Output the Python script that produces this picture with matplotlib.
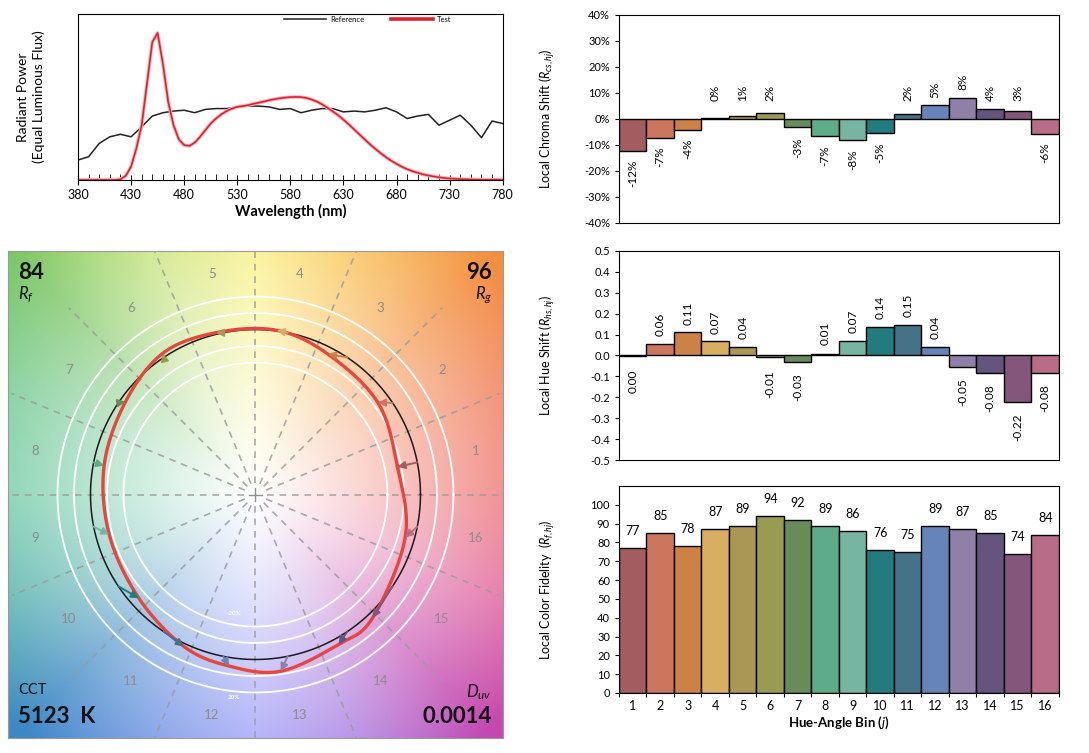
"""TM-30 style colour rendition report: spectrum, vector graphic and local metrics."""

import numpy as np
import matplotlib

matplotlib.use("Agg")
import matplotlib.pyplot as plt
from matplotlib.colors import to_rgb
from matplotlib.lines import Line2D
from matplotlib.ticker import FormatStrFormatter, MultipleLocator, PercentFormatter

plt.rcParams["font.family"] = ["Lato", "DejaVu Sans"]
plt.rcParams["axes.unicode_minus"] = False
plt.rcParams["mathtext.fontset"] = "custom"
plt.rcParams["mathtext.rm"] = "Lato"
plt.rcParams["mathtext.it"] = "Lato:italic"
plt.rcParams["mathtext.bf"] = "Lato:bold"

# ---- data -----------------------------------------------------------------
bins = np.arange(1, 17)
chroma_shift = [-0.123, -0.072, -0.042, 0.004, 0.010, 0.024, -0.032, -0.066,
                -0.081, -0.054, 0.018, 0.052, 0.082, 0.039, 0.031, -0.056]
hue_shift = [-0.004, 0.056, 0.113, 0.068, 0.043, -0.008, -0.031, 0.008,
             0.071, 0.138, 0.148, 0.043, -0.054, -0.083, -0.222, -0.083]
fidelity = [77, 85, 78, 87, 89, 94, 92, 89, 86, 76, 75, 89, 87, 85, 74, 84]
bin_colors = ["#a35c60", "#cc765e", "#cc8145", "#d8ae62", "#aa9655", "#999b51",
              "#678b5b", "#5eab87", "#76b5a2", "#227c7d", "#447286", "#6684b8",
              "#8e80a6", "#65547d", "#85567b", "#b96c88"]

wl_ref = np.arange(380, 781, 10)
ref_spd = [0.12, 0.14, 0.22, 0.26, 0.275, 0.26, 0.32, 0.385, 0.405, 0.415,
           0.42, 0.405, 0.425, 0.43, 0.43, 0.44, 0.445, 0.445, 0.44, 0.425,
           0.43, 0.405, 0.42, 0.43, 0.43, 0.41, 0.415, 0.41, 0.42, 0.435,
           0.41, 0.37, 0.385, 0.395, 0.33, 0.36, 0.39, 0.33, 0.255, 0.355, 0.34]
wl_test = np.arange(380, 781, 5)
test_spd = [0, 0, 0, 0, 0, 0, 0, 0,
            0.004, 0.025, 0.08, 0.19, 0.33, 0.58, 0.83, 0.885, 0.70, 0.47,
            0.33, 0.245, 0.21, 0.205, 0.225, 0.26, 0.30, 0.34, 0.37, 0.395,
            0.415, 0.43, 0.44, 0.445, 0.45, 0.458, 0.465, 0.472, 0.48, 0.486,
            0.492, 0.496, 0.499, 0.50, 0.499, 0.494, 0.485, 0.472, 0.455, 0.435,
            0.413, 0.39, 0.363, 0.335, 0.305, 0.275, 0.245, 0.215, 0.188, 0.162,
            0.138, 0.116, 0.097, 0.08, 0.065, 0.053, 0.043, 0.034, 0.027, 0.021,
            0.016, 0.012, 0.009, 0.007, 0.005, 0.004, 0.003, 0.002, 0.002, 0.001,
            0.001, 0.001, 0.001]

rf, rg = 84, 96
cct, duv = 5123, 0.0014

# background hue wheel for the vector graphic (angle in degrees -> colour)
bg_angles = [0, 22.5, 45, 67.5, 90, 112.5, 135, 157.5, 180, 202.5, 225,
             247.5, 270, 292.5, 315, 337.5, 360]
bg_colors = ["#ee6c6c", "#f07a55", "#f39040", "#f8c050", "#fbf07a", "#c8e47c",
             "#80c86a", "#70c890", "#68c8a0", "#50b0a8", "#3c88c4", "#6a8ee2",
             "#9898f8", "#a878e0", "#c448b0", "#e0609a", "#ee6c6c"]


def closed_spline(px, py, n=24):
    """Periodic Catmull-Rom curve through the given points."""
    pts = np.column_stack([px, py])
    k = len(pts)
    t = np.linspace(0, 1, n, endpoint=False)[:, None]
    segs = []
    for i in range(k):
        p0, p1, p2, p3 = pts[i - 1], pts[i], pts[(i + 1) % k], pts[(i + 2) % k]
        segs.append(0.5 * (2 * p1 + (-p0 + p2) * t
                           + (2 * p0 - 5 * p1 + 4 * p2 - p3) * t ** 2
                           + (-p0 + 3 * p1 - 3 * p2 + p3) * t ** 3))
    out = np.vstack(segs + [pts[:1]])
    return out[:, 0], out[:, 1]


fig = plt.figure(figsize=(10.89, 7.53), dpi=100)

# ---- spectrum -------------------------------------------------------------
ax_s = fig.add_axes([0.0716, 0.761, 0.390, 0.2205])
ax_s.plot(wl_ref, ref_spd, color="#222222", lw=1.1)
ax_s.plot(wl_test, test_spd, color="#f6b4b8", lw=2.6)
ax_s.plot(wl_test, test_spd, color="#e0202c", lw=1.2)
ax_s.set_xlim(380, 780)
ax_s.set_ylim(0, 1)
ax_s.set_yticks([])
ax_s.set_xticks(np.arange(380, 781, 50))
ax_s.xaxis.set_minor_locator(MultipleLocator(10))
ax_s.tick_params(axis="x", which="major", direction="inout", length=7, labelsize=9, pad=3)
ax_s.tick_params(axis="x", which="minor", direction="in", length=4)
ax_s.set_xlabel("Wavelength (nm)", fontsize=10.5, fontweight="bold", labelpad=2)
ax_s.set_ylabel("Radiant Power\n(Equal Luminous Flux)", fontsize=10, linespacing=1.3)
ax_s.yaxis.set_label_coords(-0.078, 0.5)
handles = [Line2D([], [], color="#222222", lw=1.1),
           Line2D([], [], color="#e0202c", lw=2.6)]
ax_s.legend(handles, ["Reference", "Test"], loc="upper left", bbox_to_anchor=(0.47, 1.03),
            ncol=2, frameon=False, fontsize=5.5, handlelength=5.5, columnspacing=3.5,
            handletextpad=0.5)

# ---- local chroma shift ---------------------------------------------------
ax_c = fig.add_axes([0.5684, 0.7039, 0.4040, 0.2762])
ax_c.bar(bins, chroma_shift, width=1, color=bin_colors, edgecolor="black", linewidth=1)
ax_c.set_xlim(0.5, 16.5)
ax_c.set_ylim(-0.4, 0.4)
ax_c.yaxis.set_major_locator(MultipleLocator(0.1))
ax_c.yaxis.set_major_formatter(PercentFormatter(1.0, decimals=0))
ax_c.set_xticks([])
ax_c.tick_params(axis="y", labelsize=8, length=3)
ax_c.set_ylabel(r"Local Chroma Shift ($R_{cs,hj}$)", fontsize=9)
ax_c.yaxis.set_label_coords(-0.14, 0.5)
for x, v in zip(bins, chroma_shift):
    if v >= 0:
        ax_c.text(x, max(v + 0.03, 0.07), f"{v:.0%}", rotation=90, ha="center",
                  va="bottom", fontsize=8.5)
    else:
        ax_c.text(x, min(v - 0.035, -0.07), f"{v:.0%}", rotation=90, ha="center",
                  va="top", fontsize=8.5)

# ---- local hue shift ------------------------------------------------------
ax_h = fig.add_axes([0.5684, 0.3891, 0.4040, 0.2776])
ax_h.bar(bins, hue_shift, width=1, color=bin_colors, edgecolor="black", linewidth=1)
ax_h.set_xlim(0.5, 16.5)
ax_h.set_ylim(-0.5, 0.5)
ax_h.yaxis.set_major_locator(MultipleLocator(0.1))
ax_h.yaxis.set_major_formatter(FormatStrFormatter("%.1f"))
ax_h.set_xticks([])
ax_h.tick_params(axis="y", labelsize=8, length=3)
ax_h.set_ylabel(r"Local Hue Shift ($R_{hs,hj}$)", fontsize=9)
ax_h.yaxis.set_label_coords(-0.14, 0.5)
for x, v in zip(bins, hue_shift):
    txt = f"{v:.2f}".replace("-0.00", "0.00")
    if v >= 0:
        ax_h.text(x, max(v + 0.035, 0.05), txt, rotation=90, ha="center",
                  va="bottom", fontsize=8.5)
    else:
        ax_h.text(x, min(v - 0.055, -0.07), txt, rotation=90, ha="center",
                  va="top", fontsize=8.5)

# ---- local fidelity -------------------------------------------------------
ax_f = fig.add_axes([0.5684, 0.0797, 0.4040, 0.2749])
ax_f.bar(bins, fidelity, width=1, color=bin_colors, edgecolor="black", linewidth=1)
ax_f.set_xlim(0.5, 16.5)
ax_f.set_ylim(0, 110)
ax_f.set_yticks(np.arange(0, 101, 10))
ax_f.tick_params(axis="y", labelsize=8, length=3)
ax_f.set_xticks(np.arange(0.5, 17, 1))
ax_f.set_xticklabels([])
ax_f.tick_params(axis="x", which="major", direction="inout", length=6)
ax_f.set_xticks(bins, minor=True)
ax_f.set_xticklabels([str(b) for b in bins], minor=True)
ax_f.tick_params(axis="x", which="minor", length=0, labelsize=9, pad=5)
ax_f.set_ylabel(r"Local Color Fidelity  ($R_{f,hj}$)", fontsize=9)
ax_f.yaxis.set_label_coords(-0.14, 0.5)
ax_f.set_xlabel(r"Hue-Angle Bin ($j$)", fontsize=9.5, fontweight="bold", labelpad=2)
for x, v in zip(bins, fidelity):
    ax_f.text(x, v + 9, str(v), ha="center", va="center", fontsize=9, zorder=5,
              clip_on=False,
              bbox=dict(boxstyle="square,pad=0.2", fc="white", ec="none"))

# ---- colour vector graphic -----------------------------------------------
ax_v = fig.add_axes([0.00735, 0.0199, 0.4545, 0.6467])
xl, yl = 1.5, 1.476
gx, gy = np.meshgrid(np.linspace(-xl, xl, 500), np.linspace(yl, -yl, 500))
ang = np.degrees(np.arctan2(gy, gx)) % 360
rad = np.hypot(gx, gy)
wheel = np.array([to_rgb(c) for c in bg_colors])
rgb = np.stack([np.interp(ang, bg_angles, wheel[:, i]) for i in range(3)], axis=-1)
sat = np.clip(rad / 2.0, 0, 1)[..., None] ** 1.1
img = 1 - sat * (1 - rgb)
ax_v.imshow(img, extent=[-xl, xl, -yl, yl], zorder=0, aspect="auto")
ax_v.set_xlim(-xl, xl)
ax_v.set_ylim(-yl, yl)
ax_v.set_xticks([])
ax_v.set_yticks([])
for sp in ax_v.spines.values():
    sp.set_color("#9a9a9a")

for k in range(16):
    a = np.radians(k * 22.5)
    ax_v.plot([0.07 * np.cos(a), 1.6 * np.cos(a)], [0.07 * np.sin(a), 1.6 * np.sin(a)],
              color="#9c9c9c", lw=1.2, dashes=(4, 3.5), alpha=0.85, zorder=1)
ax_v.plot([-0.04, 0.04], [0, 0], color="#8f8f8f", lw=1, zorder=1)
ax_v.plot([0, 0], [-0.04, 0.04], color="#8f8f8f", lw=1, zorder=1)

circ = np.linspace(0, 2 * np.pi, 400)
for rr in [0.8, 0.9, 1.1, 1.2]:
    ax_v.plot(rr * np.cos(circ), rr * np.sin(circ), color="white", lw=1.3, zorder=2)
ax_v.plot(np.cos(circ), np.sin(circ), color="#1a1a1a", lw=1.1, zorder=3)

centers = np.radians((bins - 0.5) * 22.5)
t_ang = centers + np.array(hue_shift)
t_rad = 1 + np.array(chroma_shift)
tx, ty = t_rad * np.cos(t_ang), t_rad * np.sin(t_ang)
sx, sy = closed_spline(tx, ty)
ax_v.plot(sx, sy, color="#e8453c", lw=2.4, zorder=4)
for j in range(16):
    ax_v.annotate("", xy=(tx[j], ty[j]), xytext=(np.cos(centers[j]), np.sin(centers[j])),
                  arrowprops=dict(arrowstyle="-|>", color=bin_colors[j], lw=1.4,
                                  mutation_scale=11, shrinkA=0, shrinkB=0), zorder=5)

for j, b in enumerate(bins):
    ax_v.text(1.36 * np.cos(centers[j]), 1.36 * np.sin(centers[j]), str(b),
              ha="center", va="center", fontsize=9.5, color="#8c8c8c", zorder=2)

ax_v.text(-0.13, -0.72, "-20%", ha="center", va="center", fontsize=4.5, color="white",
          fontweight="bold", zorder=3)
ax_v.text(-0.13, -1.23, "20%", ha="center", va="center", fontsize=4.5, color="white",
          fontweight="bold", zorder=3)

ax_v.text(0.02, 0.977, str(rf), transform=ax_v.transAxes, ha="left", va="top",
          fontsize=16, fontweight="bold", color="#111111")
ax_v.text(0.02, 0.91, r"$R_f$", transform=ax_v.transAxes, ha="left", va="center",
          fontsize=12, color="#111111")
ax_v.text(0.978, 0.977, str(rg), transform=ax_v.transAxes, ha="right", va="top",
          fontsize=16, fontweight="bold", color="#111111")
ax_v.text(0.978, 0.91, r"$R_g$", transform=ax_v.transAxes, ha="right", va="center",
          fontsize=12, color="#111111")
ax_v.text(0.02, 0.099, "CCT", transform=ax_v.transAxes, ha="left", va="center",
          fontsize=10.5, color="#111111")
ax_v.text(0.02, 0.045, f"{cct}  K", transform=ax_v.transAxes, ha="left", va="center",
          fontsize=16, fontweight="bold", color="#111111")
ax_v.text(0.978, 0.095, r"$D_{uv}$", transform=ax_v.transAxes, ha="right", va="center",
          fontsize=12, color="#111111")
ax_v.text(0.978, 0.045, f"{duv:.4f}", transform=ax_v.transAxes, ha="right", va="center",
          fontsize=16, fontweight="bold", color="#111111")

fig.savefig("out.png", dpi=100)
plt.close(fig)
